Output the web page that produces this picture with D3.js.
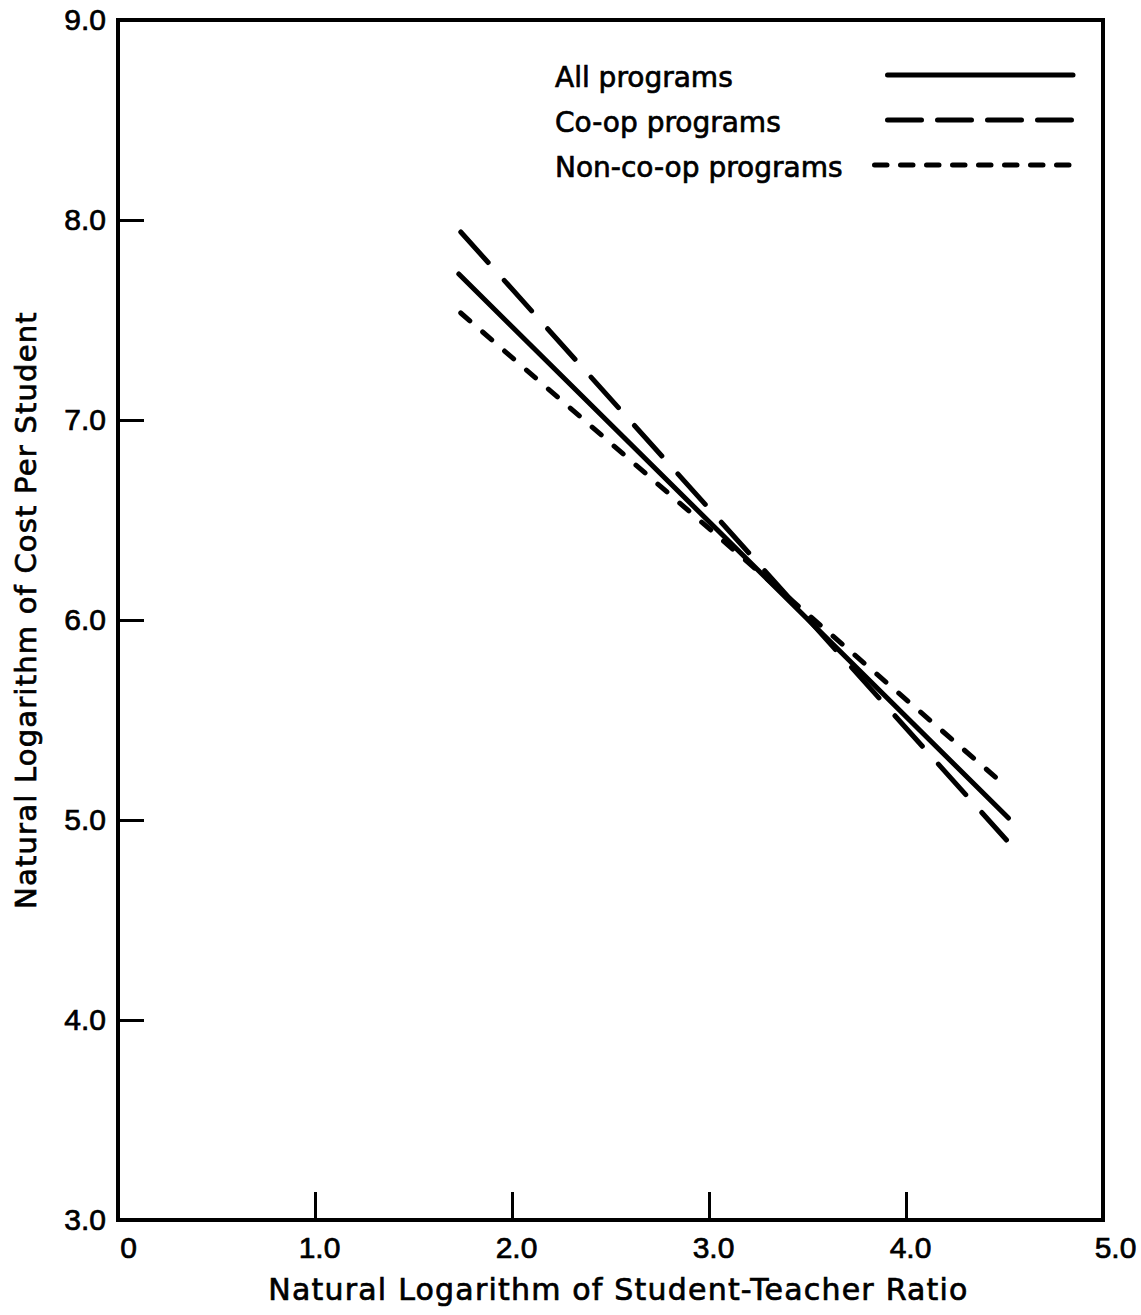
<!DOCTYPE html>
<html>
<head>
<meta charset="utf-8">
<script src="https://cdn.jsdelivr.net/npm/d3@7"></script>
<style>
  body { margin: 0; background: #fff; }
  svg { display: block; font-family: "DejaVu Sans", sans-serif; }
  .heavy { stroke: #000; stroke-width: 0.7px; }
</style>
</head>
<body>
<div id="chart"></div>
<script>
// axis ticks and their printed labels
const xTicks = [0, 1, 2, 3, 4, 5];
const xTickLabels = ["0", "1.0", "2.0", "3.0", "4.0", "5.0"];
const yTicks = [3, 4, 5, 6, 7, 8, 9];
const yTickLabels = ["3.0", "4.0", "5.0", "6.0", "7.0", "8.0", "9.0"];

// regression lines (start and end points)
const seriesNames = ["All programs", "Co-op programs", "Non-co-op programs"];
const allX = [1.73, 4.52];
const allY = [7.73, 5.01];
const coopX = [1.74, 4.51];
const coopY = [7.94, 4.90];
const noncoopX = [1.74, 4.50];
const noncoopY = [7.535, 5.175];

const xTitle = "Natural Logarithm of Student-Teacher Ratio";
const yTitle = "Natural Logarithm of Cost Per Student";

const W = 1141, H = 1315;
const plotLeft = 118, plotRight = 1103, plotTop = 20, plotBottom = 1220;

const svg = d3.select("#chart").append("svg")
    .attr("width", W)
    .attr("height", H);

const x = d3.scaleLinear().domain([0, 5]).range([plotLeft, plotRight]);
const y = d3.scaleLinear().domain([3, 9]).range([plotBottom, plotTop]);

const dashes = ["", "41,24", "12,17"];
const legendDashes = ["", "34,16", "12.5,13.5"];

// x axis, ticks pointing up into the plot
const xAxis = d3.axisBottom(x)
    .tickValues(xTicks)
    .tickFormat((d, i) => xTickLabels[i])
    .tickSizeInner(-28)
    .tickSizeOuter(0)
    .tickPadding(17);

svg.append("g")
    .attr("transform", `translate(0, ${plotBottom})`)
    .call(xAxis)
    .call(g => g.select(".domain").remove())
    .call(g => g.selectAll(".tick line").attr("stroke", "#000").attr("stroke-width", 3)
        .attr("display", d => (d === 0 || d === 5) ? "none" : null))
    .call(g => g.selectAll(".tick text")
        .attr("class", "heavy")
        .style("font-size", "30px")
        .attr("fill", "#000")
        .attr("dx", d => d === 0 ? 10 : (d === 5 ? 12 : 4)));

// y axis, ticks pointing right into the plot
const yAxis = d3.axisLeft(y)
    .tickValues(yTicks)
    .tickFormat((d, i) => yTickLabels[i])
    .tickSizeInner(-26)
    .tickSizeOuter(0)
    .tickPadding(12);

svg.append("g")
    .attr("transform", `translate(${plotLeft}, 0)`)
    .call(yAxis)
    .call(g => g.select(".domain").remove())
    .call(g => g.selectAll(".tick line").attr("stroke", "#000").attr("stroke-width", 3)
        .attr("display", d => (d === 3 || d === 9) ? "none" : null))
    .call(g => g.selectAll(".tick text")
        .attr("class", "heavy")
        .style("font-size", "30px")
        .attr("fill", "#000"));

// frame
svg.append("rect")
    .attr("x", plotLeft)
    .attr("y", plotTop)
    .attr("width", plotRight - plotLeft)
    .attr("height", plotBottom - plotTop)
    .attr("fill", "none")
    .attr("stroke", "#000")
    .attr("stroke-width", 4);

// lines
const series = [
    {name: seriesNames[0], xs: allX, ys: allY, dash: dashes[0], ldash: legendDashes[0]},
    {name: seriesNames[1], xs: coopX, ys: coopY, dash: dashes[1], ldash: legendDashes[1]},
    {name: seriesNames[2], xs: noncoopX, ys: noncoopY, dash: dashes[2], ldash: legendDashes[2]}
];

const line = d3.line()
    .x(d => x(d[0]))
    .y(d => y(d[1]));

svg.append("g").selectAll("path")
    .data(series)
    .join("path")
    .attr("d", d => line(d.xs.map((v, i) => [v, d.ys[i]])))
    .attr("fill", "none")
    .attr("stroke", "#000")
    .attr("stroke-width", 5)
    .attr("stroke-linecap", "round")
    .attr("stroke-dasharray", d => d.dash || null);

// legend
const legend = svg.append("g");
const legendX = 555, legendTop = 87, legendGap = 45;

legend.selectAll("text")
    .data(series)
    .join("text")
    .attr("class", "heavy")
    .attr("x", legendX)
    .attr("y", (d, i) => legendTop + i * legendGap)
    .style("font-size", "28px")
    .attr("fill", "#000")
    .text(d => d.name);

legend.selectAll("line")
    .data(series)
    .join("line")
    .attr("x1", (d, i) => i === 2 ? 874.5 : 887.5)
    .attr("x2", 1073)
    .attr("y1", (d, i) => legendTop - 12 + i * legendGap)
    .attr("y2", (d, i) => legendTop - 12 + i * legendGap)
    .attr("stroke", "#000")
    .attr("stroke-width", 5)
    .attr("stroke-linecap", "round")
    .attr("stroke-dasharray", d => d.ldash || null);

// axis titles
svg.append("text")
    .attr("class", "heavy")
    .attr("x", (plotLeft + plotRight) / 2 + 8)
    .attr("y", 1300)
    .attr("text-anchor", "middle")
    .style("font-size", "30px")
    .style("letter-spacing", "1.2px")
    .attr("fill", "#000")
    .text(xTitle);

svg.append("text")
    .attr("class", "heavy")
    .attr("transform", `translate(36, 610) rotate(-90)`)
    .attr("text-anchor", "middle")
    .style("font-size", "29px")
    .style("letter-spacing", "1.2px")
    .attr("fill", "#000")
    .text(yTitle);
</script>
</body>
</html>
